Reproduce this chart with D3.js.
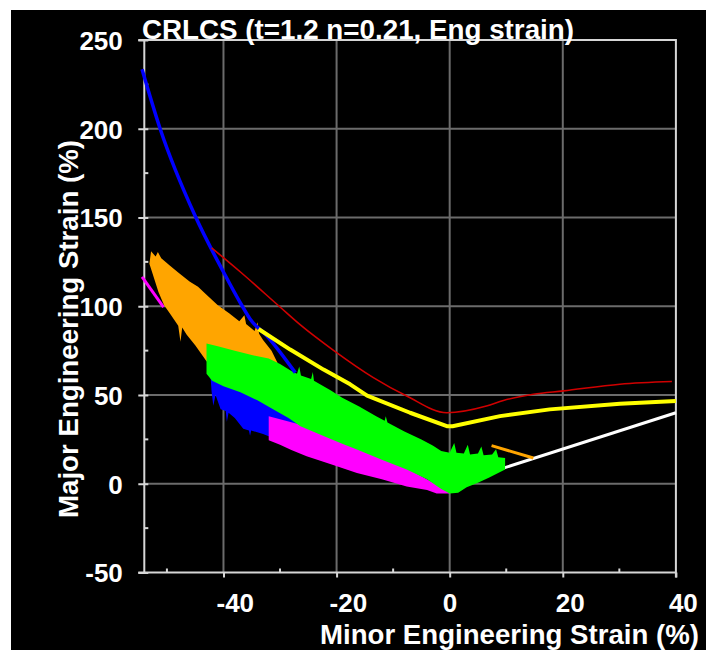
<!DOCTYPE html>
<html lang="en">
<head>
<meta charset="UTF-8"/>
<title>CRLCS forming limit</title>
<script src="https://d3js.org/d3.v7.min.js"></script>
<style>
	body { margin: 0; background: #fff; }
	svg { display: block; }
	text { font-family: "Liberation Sans", Arial, sans-serif; font-weight: bold; fill: #fff; }
</style>
</head>
<body>
<script>
var w = 706;
var h = 650;
var plotLeft = 144.3, plotRight = 675.9, plotTop = 40, plotBottom = 572.5;

// axis ticks
var xTicks = [-40, -20, 0, 20, 40];
var xMinorTicks = [-50, -30, -10, 10, 30];
var xGrid = [-40, -20, 0, 20];
var yTicks = [-50, 0, 50, 100, 150, 200, 250];
var yMinorTicks = [-25, 25, 75, 125, 175, 225];
var yGrid = [0, 50, 100, 150, 200];

var chartTitle = "CRLCS (t=1.2 n=0.21, Eng strain)";
var xTitle = "Minor Engineering Strain (%)";
var yTitle = "Major Engineering Strain (%)";

// curves [minor, major]
var blueCurve = [[-54.4, 233.5], [-51.2, 200], [-45, 150.8], [-40, 119.3], [-36.8, 100.7],
	[-35.3, 92.8], [-32.3, 83.2], [-27.3, 62.6]];
var redCurve = [[-42.1, 132.9], [-37, 119.3], [-29.9, 99.3], [-26.4, 89.5], [-20.6, 75.3],
	[-13.5, 59.8], [-7.6, 49.4], [-0.5, 40], [6.5, 43.8], [9.5, 46.9], [14.8, 50.4],
	[20.1, 52.3], [30.1, 56.1], [39.3, 57.6]];
var yellowCurve = [[-33.8, 87.2], [-28.2, 75.6], [-22.3, 64.3], [-17.6, 56], [-14.6, 49.6],
	[-7, 40], [-0.5, 32.4], [0.5, 32.4], [8.9, 38.1], [17.7, 41.9], [30.1, 45.1], [40, 46.6]];
var whiteLine = [[9.2, 8.5], [40, 40]];
var orangeLine = [[7.4, 21.5], [14.8, 14.5]];
var magentaTail = [[-54.4, 116.5], [-50.6, 99.5]];

// measured point clouds, as upper and lower outline
var orangeTop = [[-53.1, 124], [-52.8, 131], [-52, 128], [-51.6, 130.5], [-51, 127], [-49.5, 123],
	[-48, 119], [-46, 114], [-44.5, 111], [-43, 106.5], [-41, 100.5], [-39, 96], [-37.2, 91.5],
	[-36.3, 95], [-36, 90], [-34.5, 86], [-34, 91], [-33.7, 84.5], [-33, 81], [-31.5, 75],
	[-30.5, 68.5], [-29.5, 63]];
var orangeBottom = [[-53.1, 124], [-52.6, 119], [-51.5, 108], [-50.5, 100.5], [-49.5, 96],
	[-48, 89], [-47.6, 80], [-47.3, 88], [-46.5, 84], [-45, 78], [-44, 73.5], [-43, 69],
	[-40, 64], [-35, 58], [-29.5, 58]];

var greenTop = [[-43, 79], [-41, 77.5], [-38, 75], [-35, 72.5], [-32, 70.5], [-30, 67.5],
	[-28, 63.5], [-27, 62], [-26.6, 66], [-26.3, 61], [-24.5, 59], [-24.2, 63], [-24, 58],
	[-21, 52.5], [-19, 48.5], [-16, 43.5], [-13, 38], [-11.5, 35.5], [-11.3, 38], [-11, 34.5],
	[-8, 29.5], [-5, 25], [-3, 21.5], [-1.5, 18.5], [0, 17.5], [0.8, 23], [1.2, 17.5],
	[2.5, 17], [3.2, 22], [3.6, 16.5], [5, 17], [5.6, 21], [6, 16], [7.5, 16.5], [8.2, 19.5],
	[8.6, 15], [9.8, 14.5]];
var greenBottom = [[-43, 62], [-42, 58], [-40, 55], [-37, 51.5], [-34, 47], [-31, 41.5],
	[-28.5, 37], [-26.4, 32.4], [-22, 26.5], [-19, 22.5], [-16.4, 19.3], [-12, 13.5],
	[-7.6, 8], [-4, 2.5], [-1.5, -3], [0, -5.5], [1.5, -5], [3, -2], [5, 0.5], [7, 3.5], [9.8, 8]];

var blueTop = [[-42.3, 61], [-35, 50], [-26, 36]];
var blueBottom = [[-42.3, 61], [-42.1, 52], [-41.8, 44], [-41.4, 50], [-40.5, 42], [-39.6, 41],
	[-39.4, 35], [-39.1, 40], [-38, 37], [-36.5, 31], [-35.5, 30], [-35.3, 27], [-35.1, 30],
	[-33, 28], [-32, 26.8], [-29, 28], [-26, 31.5]];

var magentaTop = [[-32, 38], [-26, 33], [-16, 20], [-8, 9.5], [-2, -1], [0, -4]];
var magentaBottom = [[-32, 24.5], [-30, 22], [-28, 19], [-25.3, 15.5], [-21, 11], [-16.4, 6],
	[-12, 2.5], [-7.6, -1.5], [-4, -3.5], [-2.3, -5.5], [0, -5.5]];

var xScale = d3.scaleLinear().domain([-54, 40]).range([plotLeft, plotRight]);
var yScale = d3.scaleLinear().domain([-50, 250]).range([plotBottom, plotTop]);

var svg = d3.select("body")
	.append("svg")
	.attr("width", w)
	.attr("height", h);

svg.append("rect")
	.attr("x", 11).attr("y", 10)
	.attr("width", w - 11).attr("height", h - 10)
	.attr("fill", "#000");

//grid
svg.selectAll(".vgrid")
	.data(xGrid)
	.enter()
	.append("line")
	.attr("x1", function(d){ return xScale(d); })
	.attr("x2", function(d){ return xScale(d); })
	.attr("y1", plotTop)
	.attr("y2", plotBottom)
	.attr("stroke", "#6b6b6b")
	.attr("stroke-width", 2);

svg.selectAll(".hgrid")
	.data(yGrid)
	.enter()
	.append("line")
	.attr("x1", plotLeft)
	.attr("x2", plotRight)
	.attr("y1", function(d){ return yScale(d); })
	.attr("y2", function(d){ return yScale(d); })
	.attr("stroke", "#6b6b6b")
	.attr("stroke-width", 2);

var axisColor = "#d6d6d6";

//x axis
var xAxis = d3.axisBottom(xScale)
	.tickValues(xTicks)
	.tickSize(5)
	.tickFormat(function(d){ return String(d); });

var gx = svg.append("g")
	.attr("transform", "translate(0," + plotBottom + ")")
	.call(xAxis);
gx.select(".domain").remove();
gx.selectAll("line").attr("stroke", axisColor).attr("stroke-width", 2);
gx.selectAll("text")
	.attr("fill", "#fff")
	.attr("font-size", 26)
	.attr("text-anchor", "start")
	.attr("x", -7.5)
	.attr("y", 39.5)
	.attr("dy", null);

//y axis
var yAxis = d3.axisLeft(yScale)
	.tickValues(yTicks)
	.tickSize(6)
	.tickFormat(function(d){ return String(d); });

var gy = svg.append("g")
	.attr("transform", "translate(" + plotLeft + ",0)")
	.call(yAxis);
gy.select(".domain").remove();
gy.selectAll("line").attr("stroke", axisColor).attr("stroke-width", 2).attr("x2", -6).attr("x1", 4);
gy.selectAll("text")
	.attr("fill", "#fff")
	.attr("font-size", 26)
	.attr("x", -21.5)
	.attr("dy", "0.36em");

//minor ticks
svg.selectAll(".xminor")
	.data(xMinorTicks)
	.enter()
	.append("line")
	.attr("x1", function(d){ return xScale(d); })
	.attr("x2", function(d){ return xScale(d); })
	.attr("y1", plotBottom - 4)
	.attr("y2", plotBottom)
	.attr("stroke", axisColor)
	.attr("stroke-width", 2);

svg.selectAll(".yminor")
	.data(yMinorTicks)
	.enter()
	.append("line")
	.attr("x1", plotLeft)
	.attr("x2", plotLeft + 4)
	.attr("y1", function(d){ return yScale(d); })
	.attr("y2", function(d){ return yScale(d); })
	.attr("stroke", axisColor)
	.attr("stroke-width", 2);

//frame
svg.append("path")
	.attr("d", "M" + (plotLeft - 6) + "," + plotTop + "H" + plotRight + "V" + (plotBottom + 5) +
		"M" + plotRight + "," + plotBottom + "H" + (plotLeft - 6) +
		"M" + plotLeft + "," + plotTop + "V" + plotBottom)
	.attr("fill", "none")
	.attr("stroke", axisColor)
	.attr("stroke-width", 2);

var line = d3.line()
	.x(function(d){ return xScale(d[0]); })
	.y(function(d){ return yScale(d[1]); });

var smooth = d3.line()
	.curve(d3.curveMonotoneX)
	.x(function(d){ return xScale(d[0]); })
	.y(function(d){ return yScale(d[1]); });

function band(upper, lower) {
	return line(upper.concat(lower.slice().reverse())) + "Z";
}

function drawLine(data, color, width, gen) {
	svg.append("path")
		.attr("d", (gen || line)(data))
		.attr("fill", "none")
		.attr("stroke", color)
		.attr("stroke-width", width)
		.attr("stroke-linejoin", "round");
}

drawLine(magentaTail, "#ff00ff", 3);
drawLine(whiteLine, "#ffffff", 3);
drawLine(orangeLine, "#ffa500", 3);

svg.append("path").attr("d", band(blueTop, blueBottom)).attr("fill", "#0000ff");
svg.append("path").attr("d", band(magentaTop, magentaBottom)).attr("fill", "#ff00ff");
svg.append("path").attr("d", band(orangeTop, orangeBottom)).attr("fill", "#ffa500");
svg.append("path").attr("d", band(greenTop, greenBottom)).attr("fill", "#00ff00");

drawLine(blueCurve, "#0000ff", 3.5, smooth);
drawLine(redCurve, "#d00000", 1.6, smooth);
drawLine(yellowCurve, "#ffff00", 4);

//titles
svg.append("text")
	.attr("x", 142)
	.attr("y", 39)
	.attr("font-size", 27.5)
	.attr("textLength", 432)
	.attr("lengthAdjust", "spacingAndGlyphs")
	.text(chartTitle);

svg.append("text")
	.attr("x", 699)
	.attr("y", 644)
	.attr("text-anchor", "end")
	.attr("font-size", 27.5)
	.attr("textLength", 379)
	.attr("lengthAdjust", "spacingAndGlyphs")
	.text(xTitle);

svg.append("text")
	.attr("transform", "translate(78," + 329 + ") rotate(-90)")
	.attr("text-anchor", "middle")
	.attr("font-size", 27.5)
	.attr("textLength", 378)
	.attr("lengthAdjust", "spacingAndGlyphs")
	.text(yTitle);
</script>
</body>
</html>
